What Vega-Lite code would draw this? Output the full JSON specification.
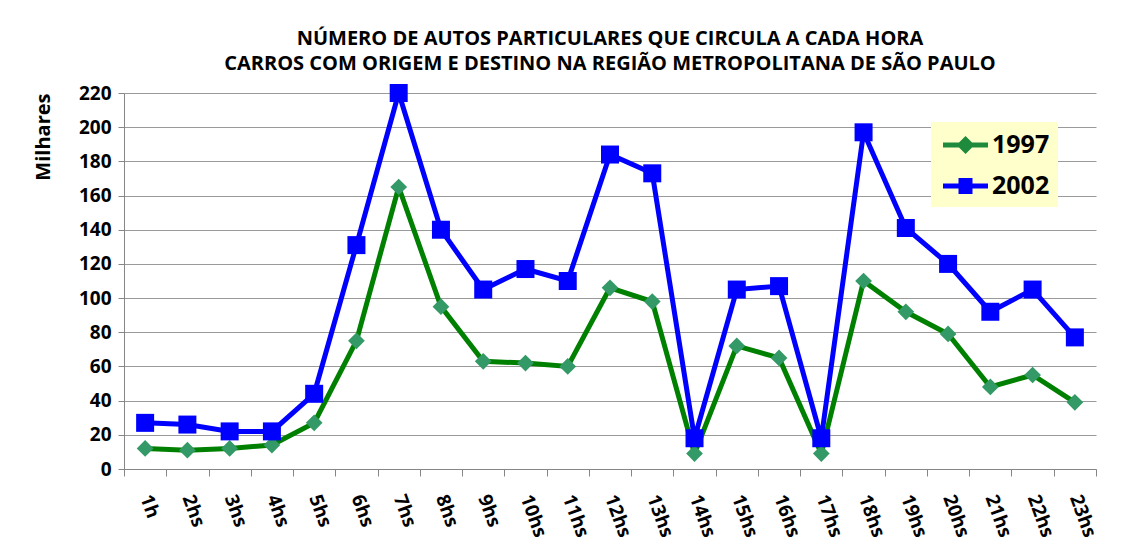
{
  "$schema": "https://vega.github.io/schema/vega-lite/v6.json",
  "autosize": {"type": "none"},
  "width": 972,
  "height": 376,
  "padding": {"left": 124, "top": 93, "right": 31, "bottom": 88},
  "background": "white",
  "title": {
    "text": ["NÚMERO DE AUTOS PARTICULARES QUE CIRCULA A CADA HORA", "CARROS COM ORIGEM E DESTINO NA REGIÃO METROPOLITANA DE SÃO PAULO"],
    "anchor": "middle",
    "font": "Open Sans",
    "fontSize": 20,
    "fontWeight": "bold",
    "lineHeight": 25,
    "offset": 9,
    "color": "black"
  },
  "config": {
    "view": {"stroke": null},
    "font": "Open Sans"
  },
  "data": {
    "values": [
      {"hora": "1h", "ano": "1997", "v": 12}, {"hora": "2hs", "ano": "1997", "v": 11}, {"hora": "3hs", "ano": "1997", "v": 12},
      {"hora": "4hs", "ano": "1997", "v": 14}, {"hora": "5hs", "ano": "1997", "v": 27}, {"hora": "6hs", "ano": "1997", "v": 75},
      {"hora": "7hs", "ano": "1997", "v": 165}, {"hora": "8hs", "ano": "1997", "v": 95}, {"hora": "9hs", "ano": "1997", "v": 63},
      {"hora": "10hs", "ano": "1997", "v": 62}, {"hora": "11hs", "ano": "1997", "v": 60}, {"hora": "12hs", "ano": "1997", "v": 106},
      {"hora": "13hs", "ano": "1997", "v": 98}, {"hora": "14hs", "ano": "1997", "v": 9}, {"hora": "15hs", "ano": "1997", "v": 72},
      {"hora": "16hs", "ano": "1997", "v": 65}, {"hora": "17hs", "ano": "1997", "v": 9}, {"hora": "18hs", "ano": "1997", "v": 110},
      {"hora": "19hs", "ano": "1997", "v": 92}, {"hora": "20hs", "ano": "1997", "v": 79}, {"hora": "21hs", "ano": "1997", "v": 48},
      {"hora": "22hs", "ano": "1997", "v": 55}, {"hora": "23hs", "ano": "1997", "v": 39},
      {"hora": "1h", "ano": "2002", "v": 27}, {"hora": "2hs", "ano": "2002", "v": 26}, {"hora": "3hs", "ano": "2002", "v": 22},
      {"hora": "4hs", "ano": "2002", "v": 22}, {"hora": "5hs", "ano": "2002", "v": 44}, {"hora": "6hs", "ano": "2002", "v": 131},
      {"hora": "7hs", "ano": "2002", "v": 220}, {"hora": "8hs", "ano": "2002", "v": 140}, {"hora": "9hs", "ano": "2002", "v": 105},
      {"hora": "10hs", "ano": "2002", "v": 117}, {"hora": "11hs", "ano": "2002", "v": 110}, {"hora": "12hs", "ano": "2002", "v": 184},
      {"hora": "13hs", "ano": "2002", "v": 173}, {"hora": "14hs", "ano": "2002", "v": 18}, {"hora": "15hs", "ano": "2002", "v": 105},
      {"hora": "16hs", "ano": "2002", "v": 107}, {"hora": "17hs", "ano": "2002", "v": 18}, {"hora": "18hs", "ano": "2002", "v": 197},
      {"hora": "19hs", "ano": "2002", "v": 141}, {"hora": "20hs", "ano": "2002", "v": 120}, {"hora": "21hs", "ano": "2002", "v": 92},
      {"hora": "22hs", "ano": "2002", "v": 105}, {"hora": "23hs", "ano": "2002", "v": 77}
    ]
  },
  "encoding": {
    "x": {
      "field": "hora", "type": "ordinal", "sort": null, "bandPosition": 0.5,
      "scale": {"type": "band", "paddingInner": 0, "paddingOuter": 0},
      "axis": {
        "title": null, "labelAngle": 70, "labelAlign": "left", "labelBaseline": "middle",
        "labelFont": "Open Sans", "labelFontSize": 19, "labelFontWeight": "bold", "labelColor": "black",
        "labelPadding": 19, "tickBand": "extent", "ticks": true, "tickSize": 7, "tickColor": "#868686",
        "domainColor": "#868686", "grid": false
      }
    },
    "y": {
      "field": "v", "type": "quantitative",
      "scale": {"domain": [0, 220], "nice": false},
      "axis": {
        "title": "Milhares", "titleFont": "Open Sans", "titleFontSize": 20, "titleFontWeight": "bold", "titleColor": "black",
        "titlePadding": 25, "titleAnchor": "end",
        "values": [0, 20, 40, 60, 80, 100, 120, 140, 160, 180, 200, 220],
        "labelFont": "Open Sans", "labelFontSize": 19, "labelFontWeight": "bold", "labelColor": "black",
        "labelPadding": 7, "tickSize": 6, "tickColor": "#868686", "domainColor": "#868686",
        "grid": true, "gridColor": "#9a9a9a", "gridWidth": 1
      }
    }
  },
  "layer": [
    {
      "mark": {"type": "line", "strokeWidth": 5, "strokeJoin": "miter"},
      "encoding": {
        "color": {
          "field": "ano", "type": "nominal",
          "scale": {"domain": ["1997", "2002"], "range": ["#008000", "#0000FF"]},
          "legend": {
            "title": null, "orient": "none", "legendX": 807, "legendY": 29,
            "fillColor": "#FFFFCC", "padding": 8, "rowPadding": 13,
            "labelFont": "Open Sans", "labelFontSize": 25, "labelFontWeight": "bold", "labelColor": "black",
            "symbolSize": 900, "labelOffset": 23,
            "encode": {
              "symbols": {
                "update": {
                  "shape": {"signal": "datum.value === '1997' ? 'M-0.733,-0.167H2.267V0.167H-0.733Z M0.767,-0.6L1.367,0L0.767,0.6L0.167,0Z' : 'M-0.733,-0.167H2.267V0.167H-0.733Z M0.3,-0.533H1.233V0.533H0.3Z'"},
                  "fill": {"signal": "datum.value === '1997' ? '#1E8A3C' : '#0000FF'"},
                  "size": {"value": 900},
                  "stroke": {"value": null},
                  "strokeWidth": {"value": 0},
                  "opacity": {"value": 1}
                }
              }
            }
          }
        }
      }
    },
    {
      "transform": [{"filter": "datum.ano === '1997'"}],
      "mark": {"type": "point", "shape": "diamond", "filled": true, "size": 280, "color": "#339966", "opacity": 1}
    },
    {
      "transform": [{"filter": "datum.ano === '2002'"}],
      "mark": {"type": "point", "shape": "square", "filled": true, "size": 324, "color": "#0000FF", "opacity": 1}
    }
  ]
}
